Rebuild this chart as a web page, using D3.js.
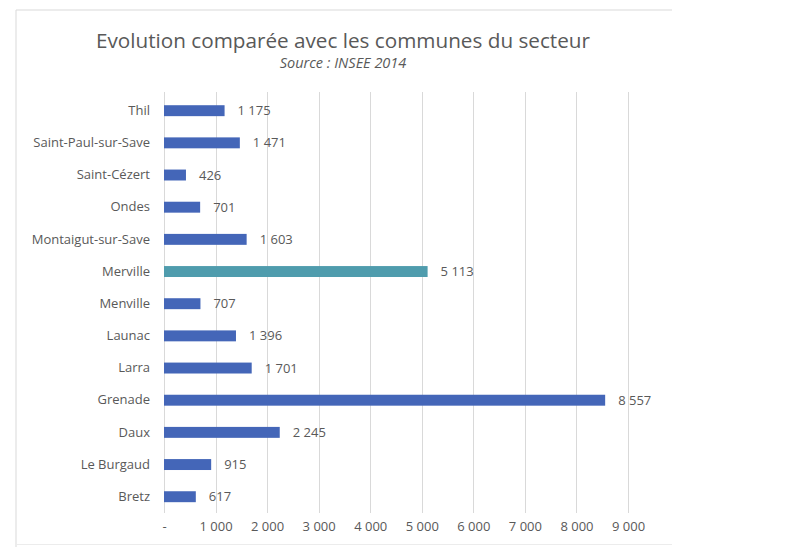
<!DOCTYPE html>
<html>
<head>
<meta charset="utf-8">
<script src="https://cdn.jsdelivr.net/npm/d3@7/dist/d3.min.js"></script>
<style>
  html, body { margin: 0; padding: 0; background: #fff; }
  svg text { font-family: "Open Sans", "Liberation Sans", sans-serif; fill: #595959; }
</style>
</head>
<body>
<svg id="chart" width="806" height="549"></svg>
<script>
// Population par commune (INSEE 2014), du haut vers le bas
const communes = ["Thil", "Saint-Paul-sur-Save", "Saint-Cézert", "Ondes", "Montaigut-sur-Save",
  "Merville", "Menville", "Launac", "Larra", "Grenade", "Daux", "Le Burgaud", "Bretz"];
const population = [1175, 1471, 426, 701, 1603, 5113, 707, 1396, 1701, 8557, 2245, 915, 617];
const highlighted = ["Merville"];
const tickValues = [0, 1000, 2000, 3000, 4000, 5000, 6000, 7000, 8000, 9000];

const title = "Evolution comparée avec les communes du secteur";
const subtitle = "Source : INSEE 2014";

const svg = d3.select("#chart");
const fmt = v => v === 0 ? "-" : d3.format(",")(v).replace(/,/g, " ");

// Cadre du graphique
svg.append("path")
  .attr("d", "M16,547 L16,10 L672,10")
  .attr("fill", "none").attr("stroke", "#d9d9d9").attr("stroke-width", 1);
svg.append("line")
  .attr("x1", 16).attr("x2", 672).attr("y1", 544.5).attr("y2", 544.5)
  .attr("stroke", "#ececec").attr("stroke-width", 1);

const x = d3.scaleLinear().domain([0, 9000]).range([164, 628]);
const y = d3.scaleBand().domain(communes).range([94.6, 512.8]).paddingInner(0.66).paddingOuter(0.33);

// Quadrillage vertical
svg.append("g").selectAll("line").data(tickValues).join("line")
  .attr("x1", d => Math.round(x(d)) + 0.5).attr("x2", d => Math.round(x(d)) + 0.5)
  .attr("y1", 92).attr("y2", 513)
  .attr("stroke", "#d9d9d9").attr("stroke-width", 1);

// Axe horizontal (libellés seulement)
const xAxis = svg.append("g").attr("transform", "translate(0,514)")
  .call(d3.axisBottom(x).tickValues(tickValues).tickFormat(fmt).tickSize(0).tickPadding(8));
xAxis.select(".domain").remove();
xAxis.selectAll("text").attr("font-size", 13).attr("fill", "#595959")
  .style("font-family", "'Open Sans', sans-serif");

// Axe vertical (noms des communes)
const yAxis = svg.append("g").attr("transform", "translate(164,0)")
  .call(d3.axisLeft(y).tickSize(0).tickPadding(14));
yAxis.select(".domain").remove();
yAxis.selectAll("text").attr("font-size", 13).attr("fill", "#595959")
  .style("font-family", "'Open Sans', sans-serif");

const rows = communes.map((c, i) => ({ c, v: population[i] }));

// Barres
svg.append("g").selectAll("rect").data(rows).join("rect")
  .attr("x", x(0))
  .attr("y", d => y(d.c))
  .attr("width", d => x(d.v) - x(0))
  .attr("height", y.bandwidth())
  .attr("fill", d => highlighted.includes(d.c) ? "#4f9cad" : "#4466b8");

// Valeurs
svg.append("g").selectAll("text").data(rows).join("text")
  .attr("x", d => x(d.v) + 13)
  .attr("y", d => y(d.c) + y.bandwidth() / 2)
  .attr("dy", "0.35em")
  .attr("font-size", 13)
  .text(d => fmt(d.v));

// Titres
svg.append("text")
  .attr("x", 343).attr("y", 48)
  .attr("text-anchor", "middle")
  .attr("font-size", 20.7)
  .text(title);
svg.append("text")
  .attr("x", 343).attr("y", 68)
  .attr("text-anchor", "middle")
  .attr("font-size", 14.5)
  .attr("font-style", "italic")
  .text(subtitle);
</script>
</body>
</html>
